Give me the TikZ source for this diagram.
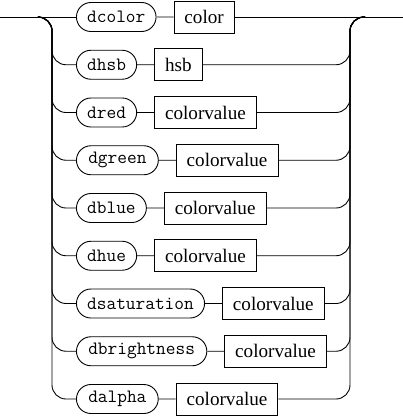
\documentclass[tikz,border=0pt]{standalone}
\usepackage{fontspec}
\setmainfont{Liberation Serif}
\usetikzlibrary{positioning,shapes.misc}

\tikzset{
  term/.style={draw, rounded rectangle, font=\fontsize{18.9}{20}\selectfont\ttfamily,
    inner xsep=9.5bp, inner ysep=0pt, minimum height=29bp},
  nonterm/.style={draw, rectangle, font=\fontsize{19.2}{22}\selectfont,
    inner xsep=10.5bp, inner ysep=0pt, minimum height=32bp},
  rail/.style={rounded corners=14bp}
}

\begin{document}
\begin{tikzpicture}[x=1bp, y=-1bp, line width=0.9bp]
		\useasboundingbox (0,0) rectangle (403,416);

		% main line
		\coordinate (start) at (0,17);
		\coordinate (end) at (403,17);
		\coordinate (in) at (38,17);
		\coordinate (out) at (365,17);
		\coordinate (lrail) at (52,0);
		\coordinate (rrail) at (350,0);

		% one row for each choice
		\foreach \i/\t/\b in {0/dcolor/color, 1/dhsb/hsb, 2/dred/colorvalue,
				3/dgreen/colorvalue, 4/dblue/colorvalue, 5/dhue/colorvalue,
				6/dsaturation/colorvalue, 7/dbrightness/colorvalue, 8/dalpha/colorvalue} {
			\node[term, anchor=west] (t\i) at (76,17+47.75*\i) {\t};
			\node[nonterm, right=17bp of t\i] (b\i) {\b};
			\draw (t\i) -- (b\i);
		}

		\draw (start) -- (t0.west);
		\draw (b0.east) -- (end);

		% branches
		\foreach \i in {1,...,8} {
			\draw[rail] (in) -| (lrail |- t\i.west) -- (t\i.west);
			\draw[rail] (b\i.east) -- (rrail |- b\i.east) |- (out);
		}
		\end{tikzpicture}
\end{document}
